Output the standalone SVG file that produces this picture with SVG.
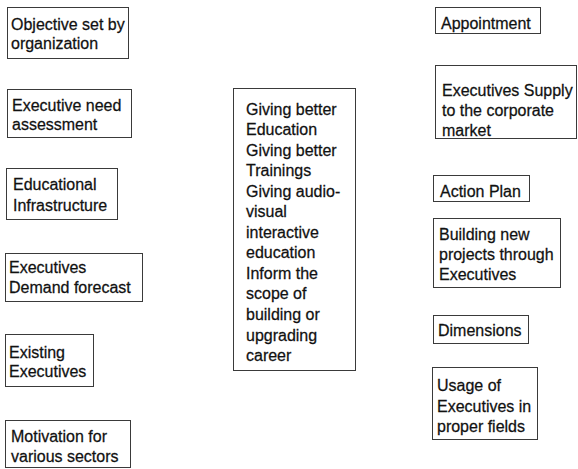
<svg xmlns="http://www.w3.org/2000/svg" width="578" height="469" viewBox="0 0 578 469">
  <style>
    .box { fill: #ffffff; stroke: #3a3a3a; stroke-width: 1; }
    .t { font-family: 'Liberation Sans', Arial, sans-serif; font-size: 16px; fill: #111111; stroke: #111111; stroke-width: 0.25; }
  </style>
  <rect x="0" y="0" width="578" height="469" fill="#ffffff"/>

  <!-- no links between the boxes -->
  <g id="connectors"/>

  <!-- left column -->
  <g id="objective">
    <rect class="box" x="7.5" y="7.5" width="121" height="51"/>
    <text class="t" transform="translate(11,29.5) scale(1,1.08)"><tspan x="0" y="0">Objective set by</tspan><tspan x="0" y="18.06">organization</tspan></text>
  </g>
  <g id="need-assessment">
    <rect class="box" x="7.5" y="89.5" width="124" height="48"/>
    <text class="t" transform="translate(12,110.5) scale(1,1.08)"><tspan x="0" y="0">Executive need</tspan><tspan x="0" y="18.52">assessment</tspan></text>
  </g>
  <g id="infrastructure">
    <rect class="box" x="6.5" y="168.5" width="111" height="51"/>
    <text class="t" transform="translate(13,190) scale(1,1.08)"><tspan x="0" y="0">Educational</tspan><tspan x="0" y="19.44">Infrastructure</tspan></text>
  </g>
  <g id="demand-forecast">
    <rect class="box" x="5.5" y="253.5" width="137" height="48"/>
    <text class="t" transform="translate(9,273) scale(1,1.08)"><tspan x="0" y="0">Executives</tspan><tspan x="0" y="18.52">Demand forecast</tspan></text>
  </g>
  <g id="existing">
    <rect class="box" x="5.5" y="334.5" width="88" height="52"/>
    <text class="t" transform="translate(9,357.5) scale(1,1.08)"><tspan x="0" y="0">Existing</tspan><tspan x="0" y="18.52">Executives</tspan></text>
  </g>
  <g id="motivation">
    <rect class="box" x="5.5" y="420.5" width="125" height="47"/>
    <text class="t" transform="translate(11,442) scale(1,1.08)"><tspan x="0" y="0">Motivation for</tspan><tspan x="0" y="18.52">various sectors</tspan></text>
  </g>

  <!-- centre column -->
  <g id="centre">
    <rect class="box" x="233.5" y="88.5" width="122" height="282"/>
    <text class="t" transform="translate(246,115) scale(1,1.08)">
      <tspan x="0" y="0">Giving better</tspan>
      <tspan x="0" y="18.98">Education</tspan>
      <tspan x="0" y="37.96">Giving better</tspan>
      <tspan x="0" y="56.94">Trainings</tspan>
      <tspan x="0" y="75.93">Giving audio-</tspan>
      <tspan x="0" y="94.91">visual</tspan>
      <tspan x="0" y="113.89">interactive</tspan>
      <tspan x="0" y="132.87">education</tspan>
      <tspan x="0" y="151.85">Inform the</tspan>
      <tspan x="0" y="170.83">scope of</tspan>
      <tspan x="0" y="189.81">building or</tspan>
      <tspan x="0" y="208.80">upgrading</tspan>
      <tspan x="0" y="227.78">career</tspan>
    </text>
  </g>

  <!-- right column -->
  <g id="appointment">
    <rect class="box" x="435.5" y="7.5" width="105" height="26"/>
    <text class="t" transform="translate(441,29) scale(1,1.08)"><tspan x="0" y="0">Appointment</tspan></text>
  </g>
  <g id="supply">
    <rect class="box" x="435.5" y="65.5" width="141" height="73"/>
    <text class="t" transform="translate(442,96) scale(1,1.08)"><tspan x="0" y="0">Executives Supply</tspan><tspan x="0" y="18.52">to the corporate</tspan><tspan x="0" y="37.04">market</tspan></text>
  </g>
  <g id="action-plan">
    <rect class="box" x="433.5" y="175.5" width="96" height="26"/>
    <text class="t" transform="translate(440,197) scale(1,1.08)"><tspan x="0" y="0">Action Plan</tspan></text>
  </g>
  <g id="new-projects">
    <rect class="box" x="433.5" y="218.5" width="127" height="69"/>
    <text class="t" transform="translate(439,240) scale(1,1.08)"><tspan x="0" y="0">Building new</tspan><tspan x="0" y="18.52">projects through</tspan><tspan x="0" y="37.04">Executives</tspan></text>
  </g>
  <g id="dimensions">
    <rect class="box" x="433.5" y="315.5" width="95" height="28"/>
    <text class="t" transform="translate(438,336) scale(1,1.08)"><tspan x="0" y="0">Dimensions</tspan></text>
  </g>
  <g id="usage">
    <rect class="box" x="432.5" y="367.5" width="105" height="72"/>
    <text class="t" transform="translate(437,391) scale(1,1.08)"><tspan x="0" y="0">Usage of</tspan><tspan x="0" y="19.44">Executives in</tspan><tspan x="0" y="37.96">proper fields</tspan></text>
  </g>
</svg>
